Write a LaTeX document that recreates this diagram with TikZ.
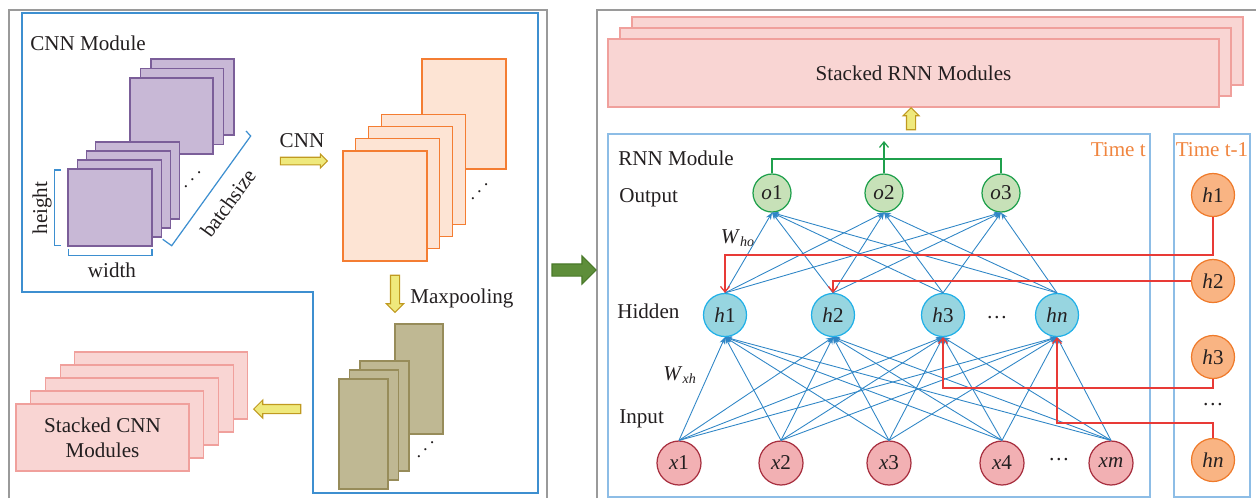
\documentclass[tikz,border=0pt]{standalone}
\usepackage{fontspec}
\setmainfont{Liberation Serif}
\usetikzlibrary{arrows.meta, positioning, shapes.arrows}

\definecolor{txtgray}{HTML}{231F20}
\definecolor{panelgray}{HTML}{9A9A9A}
\definecolor{cnnblue}{HTML}{3D8FD0}
\definecolor{rnnblue}{HTML}{8DBDE6}
\definecolor{purpfill}{HTML}{C8B8D6}
\definecolor{purpdraw}{HTML}{7B5E99}
\definecolor{orgfill}{HTML}{FDE4D4}
\definecolor{orgdraw}{HTML}{F47D32}
\definecolor{polfill}{HTML}{BFB893}
\definecolor{poldraw}{HTML}{978C5A}
\definecolor{pinkfill}{HTML}{F9D5D3}
\definecolor{pinkdraw}{HTML}{F0A09C}
\definecolor{goldfill}{HTML}{EFE97C}
\definecolor{goldedge}{HTML}{C09A20}
\definecolor{grnfill}{HTML}{5E8E3A}
\definecolor{grnedge}{HTML}{4A7A2A}
\definecolor{ofill}{HTML}{C7E1B8}
\definecolor{odraw}{HTML}{1FA04C}
\definecolor{hfill}{HTML}{97D5E0}
\definecolor{hdraw}{HTML}{20B0E8}
\definecolor{xfill}{HTML}{F2B0B3}
\definecolor{xdraw}{HTML}{A83040}
\definecolor{pfill}{HTML}{F9B483}
\definecolor{pdraw}{HTML}{EF7A2A}
\definecolor{wireblue}{HTML}{2F86C6}
\definecolor{recred}{HTML}{E83A36}
\definecolor{timeorange}{HTML}{F0853F}

\begin{document}
\begin{tikzpicture}[x=0.2mm, y=-0.2mm,
  font=\fontsize{12pt}{14pt}\selectfont, text=txtgray,
  panel/.style={draw=panelgray, line width=0.9pt},
  modframe/.style={draw=cnnblue, line width=0.7pt},
  rnnframe/.style={draw=rnnblue, line width=0.7pt},
  purplemap/.style={draw=purpdraw, fill=purpfill, line width=0.6pt},
  orangemap/.style={draw=orgdraw, fill=orgfill, line width=0.6pt},
  poolmap/.style={draw=poldraw, fill=polfill, line width=0.6pt},
  stackmod/.style={draw=pinkdraw, fill=pinkfill, line width=0.6pt, align=center, inner sep=0pt},
  brk/.style={draw=cnnblue, line width=0.7pt},
  blockarr/.style={single arrow, draw=goldedge, fill=goldfill, line width=0.6pt, inner xsep=0pt, minimum width=1pt},
  onode/.style={circle, draw=odraw, fill=ofill, line width=0.7pt, minimum size=0.76cm, inner sep=0pt},
  hnode/.style={circle, draw=hdraw, fill=hfill, line width=0.7pt, minimum size=0.86cm, inner sep=0pt},
  xnode/.style={circle, draw=xdraw, fill=xfill, line width=0.7pt, minimum size=0.88cm, inner sep=0pt},
  pnode/.style={circle, draw=pdraw, fill=pfill, line width=0.7pt, minimum size=0.86cm, inner sep=0pt},
  wire/.style={draw=wireblue, line width=0.5pt, -{Stealth[length=1.4mm, width=1.1mm]}},
  recur/.style={draw=recred, line width=0.7pt, -{Straight Barb[length=1.1mm, width=1.8mm]}},
  outwire/.style={draw=odraw, line width=0.7pt},
  lbl/.style={anchor=west, inner sep=0pt}
]
\useasboundingbox (0,0) rectangle (1256,498);

% panels
\draw[panel] (9,498) -- (9,10) -- (547,10) -- (547,498);
\draw[panel] (597,498) -- (597,10) -- (1256,10);
\draw[modframe] (22,13) -- (538,13) -- (538,493) -- (313,493) -- (313,292) -- (22,292) -- cycle;
\node[lbl] (cnnlbl) at (30,43) {CNN Module};

% input feature maps
\foreach \i in {2,1,0}
  \draw[purplemap] (130+10.5*\i, 78-9.5*\i) rectangle ++(83,76);
\foreach \i in {3,2,1,0}
  \draw[purplemap] (68+9.3*\i, 169-9*\i) rectangle ++(84,77);
\node[rotate=45, inner sep=0pt] (indots) at (193,180) {$\cdots$};
\draw[brk] (61,170) -- (54.5,170) -- (54.5,245.5) -- (61,245.5);
\draw[brk] (68.5,249) -- (68.5,255.5) -- (152,255.5) -- (152,249);
\draw[brk] (162.7,239.3) -- (171.7,245.7) -- (250.7,136) -- (246,131);
\node[rotate=90] (hgt) at (42,208) {height};
\node (wdt) at (112,270) {width};
\node[rotate=54, inner sep=0pt] (bsz) at (228,203) {batchsize};

% convolution
\node[blockarr, minimum height=0.94cm, inner ysep=0.065cm, single arrow head extend=0.065cm] (cnnarr) at (302,161) {};
\node (cnnlbl2) at (302,141) {CNN};
\draw[orangemap] (422,59) rectangle (506,169);
\foreach \i in {3,2,1,0}
  \draw[orangemap] (343+12.7*\i, 151-12.3*\i) rectangle ++(84,110);
\node[rotate=45, inner sep=0pt] (convdots) at (480,192) {$\cdots$};

% pooling
\node[blockarr, rotate=-90, minimum height=0.74cm, inner ysep=0.08cm, single arrow head extend=0.08cm] (poolarr) at (395,291.5) {};
\node[lbl] (poollbl) at (410,298) {Maxpooling};
\draw[poolmap] (395,324) rectangle (443,434);
\foreach \i in {2,1,0}
  \draw[poolmap] (339+10.5*\i, 379-9*\i) rectangle ++(49,110);
\node[rotate=45, inner sep=0pt] (pooldots) at (426,450) {$\cdots$};

% stacked cnn modules
\node[blockarr, rotate=180, minimum height=0.94cm, inner ysep=0.08cm, single arrow head extend=0.09cm] (stackarr) at (279.5,409) {};
\foreach \i in {4,3,2,1}
  \draw[stackmod] (16+14.7*\i, 404-13*\i) rectangle ++(173,67);
\node[stackmod, minimum width=3.46cm, minimum height=1.34cm] (cnnstack) at (102.5,437.5) {Stacked CNN\\Modules};

% cnn to rnn
\node[single arrow, draw=grnedge, fill=grnfill, line width=0.6pt, inner xsep=0pt, minimum width=1pt,
  minimum height=0.88cm, inner ysep=0.11cm, single arrow head extend=0.16cm] (linkarr) at (571,270) {};

% stacked rnn modules
\foreach \i in {2,1}
  \draw[stackmod] (608+12*\i, 39-11*\i) rectangle ++(611,68);
\node[stackmod, minimum width=12.22cm, minimum height=1.36cm] (rnnstack) at (913.5,73) {Stacked RNN Modules};
\node[blockarr, rotate=90, minimum height=0.44cm, inner ysep=0.08cm, single arrow head extend=0.07cm] (uparr) at (911,121) {};

% rnn module frames
\draw[rnnframe] (608,134) rectangle (1150,497);
\draw[rnnframe] (1174,134) rectangle (1250,497);
\node[anchor=east, inner sep=0pt, text=timeorange] (tnow) at (1146,150) {Time t};
\node[text=timeorange, inner sep=0pt] (tprev) at (1212,150) {Time t-1};
\node[lbl] (rnnlbl) at (618,158) {RNN Module};
\node[lbl] (outlbl) at (619,198) {Output};
\node[lbl] (hidlbl) at (617,311) {Hidden};
\node[lbl] (inlbl) at (619,419) {Input};
\node (who) at (738,238) {\textit{W}\textsubscript{\textit{ho}}};
\node (wxh) at (680,375) {\textit{W}\textsubscript{\textit{xh}}};

% layers
\node[onode] (o1) at (772,193) {\textit{o}1};
\node[onode] (o2) at (884,193) {\textit{o}2};
\node[onode] (o3) at (1001,193) {\textit{o}3};
\node[hnode] (h1) at (725,315) {\textit{h}1};
\node[hnode] (h2) at (833,315) {\textit{h}2};
\node[hnode] (h3) at (943,315) {\textit{h}3};
\node[hnode] (hn) at (1057,315) {\textit{hn}};
\node (hdots) at (997,318) {\dots};
\node[xnode] (x1) at (679,463) {\textit{x}1};
\node[xnode] (x2) at (781,463) {\textit{x}2};
\node[xnode] (x3) at (889,463) {\textit{x}3};
\node[xnode] (x4) at (1002,463) {\textit{x}4};
\node[xnode] (xm) at (1111,463) {\textit{xm}};
\node (xdots) at (1059,460) {\dots};
\node[pnode] (p1) at (1213,195) {\textit{h}1};
\node[pnode] (p2) at (1213,281) {\textit{h}2};
\node[pnode] (p3) at (1213,357) {\textit{h}3};
\node (pdots) at (1213,405) {\dots};
\node[pnode] (pn) at (1213,460) {\textit{hn}};
\coordinate (outtop) at (884,141);

% weights
\foreach \a in {x1,x2,x3,x4,xm}
  \foreach \b in {h1,h2,h3,hn}
    \draw[wire] (\a.north) -- (\b.south);
\foreach \a in {h1,h2,h3,hn}
  \foreach \b in {o1,o2,o3}
    \draw[wire] (\a.north) -- (\b.south);

% recurrent links
\draw[recur] (p1.south) |- (h1.north |- 0,255) -- (h1.north);
\draw[recur] (p2.west) -| (h2.north);
\draw[recur] (p3.south) |- (h3.south |- 0,388) -- (h3.south);
\draw[recur] (pn.north) |- (hn.south |- 0,423) -- (hn.south);

% output
\draw[outwire] (o1.north) |- (o3.north |- 0,159) -- (o3.north);
\draw[outwire, -{Straight Barb[length=1.1mm, width=1.8mm]}] (o2.north) -- (outtop);
\end{tikzpicture}
\end{document}
